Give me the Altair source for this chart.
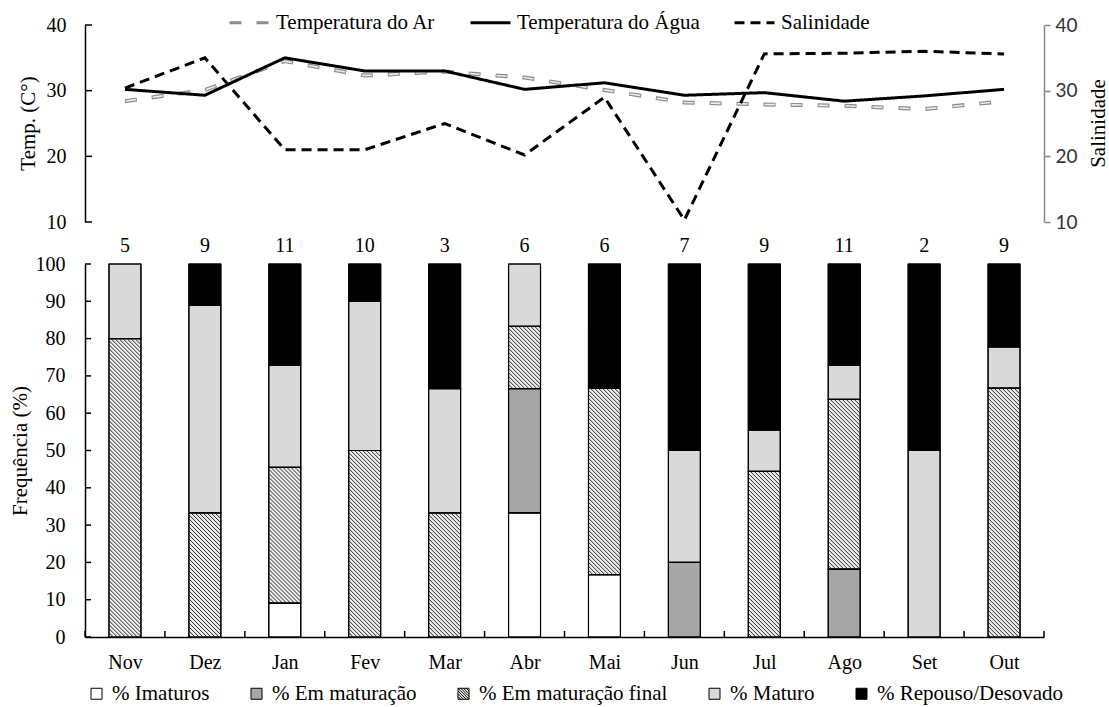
import altair as alt
import pandas as pd

# ---------------- data ----------------
meses = ["Nov", "Dez", "Jan", "Fev", "Mar", "Abr", "Mai", "Jun", "Jul", "Ago", "Set", "Out"]
n_amostras = [5, 9, 11, 10, 3, 6, 6, 7, 9, 11, 2, 9]

series = ["Temperatura do Ar", "Temperatura do Água", "Salinidade"]
temp_ar = [28.4, 30.1, 34.5, 32.3, 32.9, 32.0, 30.1, 28.2, 27.9, 27.7, 27.2, 28.4]
temp_agua = [30.2, 29.3, 35.0, 33.0, 33.0, 30.2, 31.2, 29.3, 29.7, 28.4, 29.2, 30.2]
salinidade = [30.4, 35.0, 21.0, 21.0, 25.0, 20.2, 29.0, 10.3, 35.6, 35.7, 36.0, 35.6]

estagios = ["% Imaturos", "% Em maturação", "% Em maturação final", "% Maturo", "% Repouso/Desovado"]
imaturos = [0, 0, 9.1, 0, 0, 33.3, 16.7, 0, 0, 0, 0, 0]
em_maturacao = [0, 0, 0, 0, 0, 33.3, 0, 20.0, 0, 18.2, 0, 0]
em_maturacao_final = [80.0, 33.3, 36.4, 50.0, 33.3, 16.7, 50.0, 0, 44.4, 45.5, 0, 66.7]
maturo = [20.0, 55.6, 27.3, 40.0, 33.3, 16.7, 0, 30.0, 11.1, 9.1, 50.0, 11.1]
repouso = [0, 11.1, 27.3, 10.0, 33.4, 0, 33.3, 50.0, 44.5, 27.3, 50.0, 22.2]

temp_ticks = [10, 20, 30, 40]
freq_ticks = [0, 10, 20, 30, 40, 50, 60, 70, 80, 90, 100]

# ---------------- layout constants ----------------
W = 959          # plot width
H = 612          # plot height (top of line panel to bar baseline)
BAR_TOP = 239    # pixel row of 100 %
TEMP_BOTTOM = 197
HALF = 0.2       # half bar width in x units
SERIF = "Liberation Serif"

PX_X = W / 12.0
PX_Y = (H - BAR_TOP) / 100.0

# ---------------- tables ----------------
idx = list(range(len(meses)))
df_ar = pd.DataFrame({"i": idx, "v": temp_ar, "serie": series[0]})
df_agua = pd.DataFrame({"i": idx, "v": temp_agua, "serie": series[1]})
df_sal = pd.DataFrame({"i": idx, "v": salinidade, "serie": series[2]})

valores = [imaturos, em_maturacao, em_maturacao_final, maturo, repouso]
rows, hatch = [], []
STEP = 4.0
for i in idx:
    lo = 0.0
    for cat, vals in zip(estagios, valores):
        v = vals[i]
        if v <= 0:
            continue
        hi = lo + v
        rows.append({"x0": i - HALF, "x1": i + HALF, "lo": lo, "hi": min(hi, 100), "estagio": cat})
        if cat == "% Em maturação final":
            bw = 2 * HALF * PX_X
            hp = v * PX_Y
            c = -bw + STEP / 2
            while c < hp:
                X0 = max(0.0, -c)
                X1 = min(bw, hp - c)
                if X1 > X0:
                    hatch.append({
                        "x0": i - HALF + X0 / PX_X, "x1": i - HALF + X1 / PX_X,
                        "y0": hi - (X0 + c) / PX_Y, "y1": hi - (X1 + c) / PX_Y,
                    })
                c += STEP
        lo = hi
df_bars = pd.DataFrame(rows)
df_hatch = pd.DataFrame(hatch)
df_n = pd.DataFrame({"i": idx, "n": n_amostras, "topo": 100})
df_tt = pd.DataFrame({"v": temp_ticks})
df_ft = pd.DataFrame({"v": freq_ticks})
df_xt = pd.DataFrame({"b": [k + 0.5 for k in range(-1, 12)]})

# ---------------- scales / axes ----------------
month_expr = "[" + ",".join("'%s'" % m for m in meses) + "][datum.value]"
x_scale = alt.Scale(domain=[-0.5, 11.5], nice=False, zero=False)
x_axis = alt.Axis(values=idx, labelExpr=month_expr, ticks=False, tickSize=0,
                  domainColor="black", domainWidth=1.5, labelPadding=15,
                  labelFont=SERIF, labelFontSize=20, labelColor="black", title=None, grid=False)

temp_scale = alt.Scale(domain=[10, 40], range=[TEMP_BOTTOM, 0], nice=False, zero=False)
bar_scale = alt.Scale(domain=[0, 100], range=[H, BAR_TOP], nice=False, zero=False)

temp_axis = alt.Axis(orient="left", values=temp_ticks, ticks=False, tickSize=0,
                     domainColor="black", domainWidth=1.5, labelPadding=19,
                     labelFont=SERIF, labelFontSize=20, labelColor="black",
                     title="Temp. (C°)", titleFont=SERIF, titleFontSize=21, titleFontWeight="normal",
                     titleColor="black", titleX=-57, titleY=98, titleAngle=270,
                     titleAlign="center", titleBaseline="middle", grid=False)
sal_axis = alt.Axis(orient="right", values=temp_ticks, tickSize=6, tickColor="#868686", tickWidth=1.5,
                    domainColor="#868686", domainWidth=1.5, labelPadding=5,
                    labelFont="Lato", labelFontSize=19, labelColor="#333333",
                    title="Salinidade", titleFont=SERIF, titleFontSize=21, titleFontWeight="normal",
                    titleColor="black", titleX=54, titleY=98, titleAngle=270,
                    titleAlign="center", titleBaseline="middle", grid=False)
bar_axis = alt.Axis(orient="left", values=freq_ticks, ticks=False, tickSize=0,
                    domainColor="black", domainWidth=1.5, labelPadding=20,
                    labelFont=SERIF, labelFontSize=20, labelColor="black",
                    title="Frequência (%)", titleFont=SERIF, titleFontSize=21, titleFontWeight="normal",
                    titleColor="black", titleX=-65, titleY=(H + BAR_TOP) / 2, titleAngle=270,
                    titleAlign="center", titleBaseline="middle", grid=False)

X = alt.X("i:Q", scale=x_scale, axis=x_axis)

line_legend = alt.Legend(title=None, orient="none", legendX=143, legendY=-24, direction="horizontal",
                         symbolType="stroke", symbolSize=1600, symbolStrokeWidth=3,
                         labelFont=SERIF, labelFontSize=21, labelColor="black", labelOffset=5,
                         labelLimit=500, columnPadding=28, padding=0)
color_enc = alt.Color("serie:N", scale=alt.Scale(domain=series, range=["#8c8c8c", "black", "black"]),
                      legend=line_legend)
dash_enc = alt.StrokeDash("serie:N", scale=alt.Scale(domain=series, range=[[12, 15], [1, 0], [10, 6]]),
                          legend=line_legend)

HATCH_PATH = ("M-1,-1H1V1H-1Z M-1,-1L1,1 M-1,-0.5L0.5,1 M-1,0L0,1 M-1,0.5L-0.5,1 "
              "M-0.5,-1L1,0.5 M0,-1L1,0 M0.5,-1L1,-0.5")
fill_legend = alt.Legend(title=None, orient="none", legendX=1, legendY=658, direction="horizontal",
                         symbolType=alt.ExprRef(expr="datum.value == '% Em maturação final' ? '"
                                                + HATCH_PATH + "' : 'square'"),
                         symbolSize=121, symbolStrokeColor="black", symbolStrokeWidth=1,
                         labelFont=SERIF, labelFontSize=21, labelColor="black", labelOffset=5,
                         labelLimit=500, columnPadding=36, padding=0)
fill_enc = alt.Fill("estagio:N", scale=alt.Scale(domain=estagios,
                    range=["white", "#a6a6a6", "#ececec", "#d9d9d9", "black"]), legend=fill_legend)

# ---------------- layers ----------------
ar_outer = alt.Chart(df_ar).mark_line(strokeWidth=4).encode(
    x=X, y=alt.Y("v:Q", scale=temp_scale, axis=temp_axis), color=color_enc, strokeDash=dash_enc)
ar_inner = alt.Chart(df_ar).mark_line(strokeWidth=1.6, color="#ededed", strokeDash=[10, 17],
                                      strokeDashOffset=-1).encode(
    x=X, y=alt.Y("v:Q", scale=temp_scale, axis=None))
agua = alt.Chart(df_agua).mark_line(strokeWidth=3).encode(
    x=X, y=alt.Y("v:Q", scale=temp_scale, axis=None), color=color_enc, strokeDash=dash_enc)
sal = alt.Chart(df_sal).mark_line(strokeWidth=3).encode(
    x=X, y=alt.Y("v:Q", scale=temp_scale, axis=sal_axis), color=color_enc, strokeDash=dash_enc)
temp_tick_rules = alt.Chart(df_tt).mark_rule(color="black", strokeWidth=1.5).encode(
    x=alt.value(0), x2=alt.value(7), y=alt.Y("v:Q", scale=temp_scale, axis=None))

bars = alt.Chart(df_bars).mark_rect(stroke="black", strokeWidth=1).encode(
    x=alt.X("x0:Q", scale=x_scale, axis=x_axis), x2="x1:Q",
    y=alt.Y("lo:Q", scale=bar_scale, axis=bar_axis), y2="hi:Q", fill=fill_enc)
hatch_rules = alt.Chart(df_hatch).mark_rule(color="#2a2a2a", strokeWidth=1).encode(
    x=alt.X("x0:Q", scale=x_scale, axis=x_axis), x2="x1:Q",
    y=alt.Y("y0:Q", scale=bar_scale, axis=None), y2="y1:Q")
outlines = alt.Chart(df_bars).mark_rect(fill="transparent", stroke="black", strokeWidth=1.2).encode(
    x=alt.X("x0:Q", scale=x_scale, axis=x_axis), x2="x1:Q",
    y=alt.Y("lo:Q", scale=bar_scale, axis=None), y2="hi:Q")
counts = alt.Chart(df_n).mark_text(font=SERIF, fontSize=20, baseline="alphabetic", dy=-12,
                                   color="black").encode(
    x=X, y=alt.Y("topo:Q", scale=bar_scale, axis=None), text="n:Q")
freq_tick_rules = alt.Chart(df_ft).mark_rule(color="black", strokeWidth=1.5).encode(
    x=alt.value(0), x2=alt.value(6), y=alt.Y("v:Q", scale=bar_scale, axis=None))
x_tick_rules = alt.Chart(df_xt).mark_rule(color="black", strokeWidth=1.5).encode(
    x=alt.X("b:Q", scale=x_scale, axis=x_axis), y=alt.value(H), y2=alt.value(H - 6))

chart = alt.layer(
    bars, hatch_rules, outlines, counts, freq_tick_rules, x_tick_rules,
    ar_outer, ar_inner, agua, sal, temp_tick_rules,
).resolve_scale(y="independent").properties(
    width=W, height=H,
    autosize=alt.AutoSizeParams(type="none"),
    padding={"left": 85, "top": 25, "right": 65, "bottom": 70},
    background="white",
).configure_view(stroke=None).configure_axis(grid=False)

chart.save("out.html", embed_options={"renderer": "svg", "actions": False})
